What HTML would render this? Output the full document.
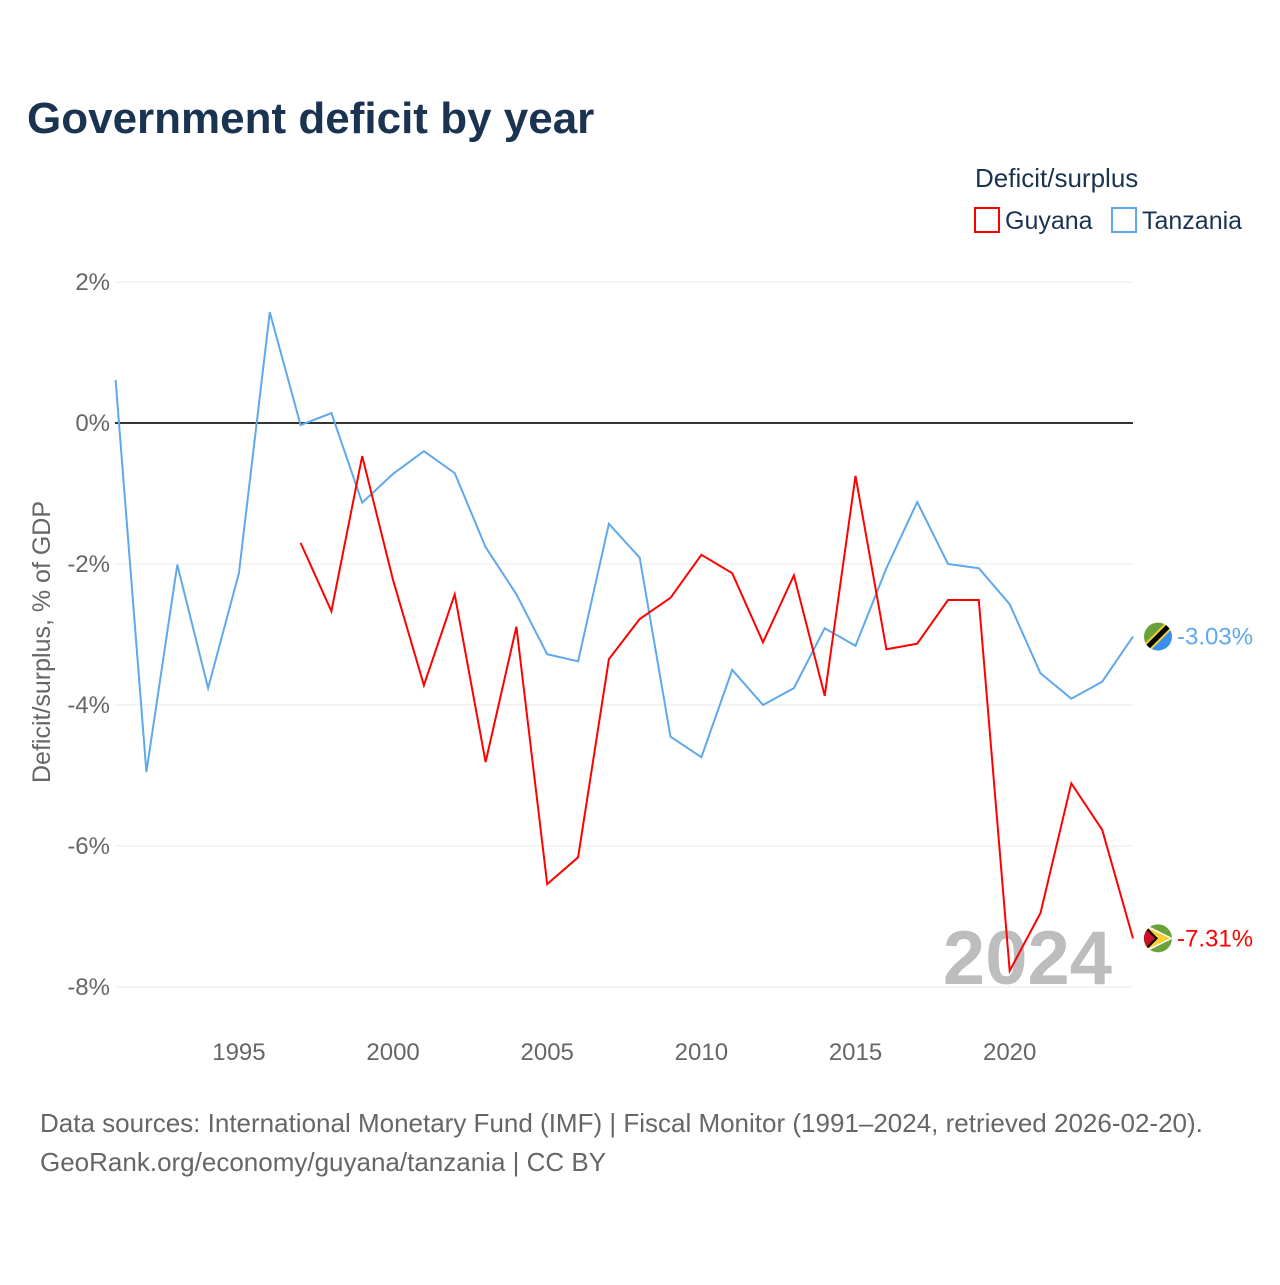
<!DOCTYPE html>
<html><head><meta charset="utf-8">
<style>
body{margin:0;background:#fff;font-family:"Liberation Sans",sans-serif;}
svg text{font-family:"Liberation Sans",sans-serif;}
</style></head>
<body>
<svg width="1280" height="1280" viewBox="0 0 1280 1280">
<rect width="1280" height="1280" fill="#fff"/>
<text x="27" y="133" font-size="44" font-weight="bold" fill="#1a3350">Government deficit by year</text>
<g>
<text x="975" y="187" font-size="26" fill="#1a3350">Deficit/surplus</text>
<rect x="975" y="208" width="24" height="24" fill="none" stroke="#ff0000" stroke-width="2"/>
<text x="1005" y="229" font-size="25" fill="#1a3350">Guyana</text>
<rect x="1112" y="208" width="24" height="24" fill="none" stroke="#5fa8ec" stroke-width="2"/>
<text x="1142" y="229" font-size="25" fill="#1a3350">Tanzania</text>
</g>
<g id="grid"></g>
<g id="yticks"></g>
<g id="xticks"></g>
<text transform="translate(50,642) rotate(-90)" text-anchor="middle" font-size="25" fill="#666">Deficit/surplus, % of GDP</text>
<text x="1112" y="984" text-anchor="end" font-size="76" font-weight="bold" fill="#bdbdbd">2024</text>
<g id="series"></g>
<g id="flags"></g>
<text x="40" y="1132" font-size="26" fill="#666">Data sources: International Monetary Fund (IMF) | Fiscal Monitor (1991–2024, retrieved 2026-02-20).</text>
<text x="40" y="1171" font-size="26" fill="#666">GeoRank.org/economy/guyana/tanzania | CC BY</text>
</svg>
<script>
const years = [1991,1992,1993,1994,1995,1996,1997,1998,1999,2000,2001,2002,2003,2004,2005,2006,2007,2008,2009,2010,2011,2012,2013,2014,2015,2016,2017,2018,2019,2020,2021,2022,2023,2024];
const tanzania = [0.61,-4.95,-2.01,-3.76,-2.13,1.57,-0.03,0.14,-1.13,-0.72,-0.40,-0.71,-1.76,-2.43,-3.28,-3.38,-1.43,-1.91,-4.45,-4.74,-3.50,-4.00,-3.76,-2.91,-3.16,-2.06,-1.12,-2.00,-2.06,-2.57,-3.55,-3.91,-3.67,-3.03];
const guyana = [null,null,null,null,null,null,-1.70,-2.67,-0.47,-2.23,-3.72,-2.43,-4.81,-2.89,-6.54,-6.16,-3.35,-2.78,-2.48,-1.87,-2.13,-3.11,-2.16,-3.87,-0.75,-3.21,-3.13,-2.51,-2.51,-7.77,-6.95,-5.11,-5.77,-7.31];
const yTicks = [2,0,-2,-4,-6,-8];
const xTicks = [1995,2000,2005,2010,2015,2020];
const NS="http://www.w3.org/2000/svg";
const x = yr => 115.6 + (yr-1991)*(1133-115.6)/33;
const y = v => 423 - v*70.5;
function mk(tag, attrs, parent){const e=document.createElementNS(NS,tag);for(const k in attrs)e.setAttribute(k,attrs[k]);parent.appendChild(e);return e;}
const grid=document.getElementById('grid'), yt=document.getElementById('yticks'), xt=document.getElementById('xticks');
yTicks.forEach(t=>{
  const l=mk('line',{x1:115,x2:1133,y1:y(t),y2:y(t),stroke:t===0?'#333':'#e8e8e8','stroke-width':t===0?2:1},grid);
  
  
  const tx=mk('text',{x:110,y:y(t)+8,'text-anchor':'end','font-size':24,fill:'#666'},yt);
  tx.textContent=t+'%';
  
  
});
xTicks.forEach(t=>{
  const tx=mk('text',{x:x(t),y:1060,'text-anchor':'middle','font-size':24,fill:'#666'},xt);
  tx.textContent=t;
  
  
});
function path(vals){let d='',pen=false;vals.forEach((v,i)=>{if(v===null){pen=false;return;}d+=(pen?'L':'M')+x(years[i]).toFixed(1)+','+y(v).toFixed(1);pen=true;});return d;}
const s=document.getElementById('series');
const pt=mk('path',{d:path(tanzania),fill:'none',stroke:'#5fa8ec','stroke-width':2},s);


const pg=mk('path',{d:path(guyana),fill:'none',stroke:'#ff0000','stroke-width':2},s);


const f=document.getElementById('flags');
const last=years.length-1;
(function(){
  const cx=1158, cy=y(tanzania[last]);
  const g=mk('g',{},f);
  
  
  mk('clipPath',{id:'ct'},g);
  mk('circle',{cx:cx,cy:cy,r:14},document.getElementById('ct'));
  const gg=mk('g',{'clip-path':'url(#ct)'},g);
  mk('polygon',{points:`${cx-15},${cy-15} ${cx+15},${cy-15} ${cx-15},${cy+15}`,fill:'#6aa23a'},gg);
  mk('polygon',{points:`${cx+15},${cy-15} ${cx+15},${cy+15} ${cx-15},${cy+15}`,fill:'#3a8ef0'},gg);
  mk('line',{x1:cx-15,y1:cy+15,x2:cx+15,y2:cy-15,stroke:'#f7d038','stroke-width':9},gg);
  mk('line',{x1:cx-15,y1:cy+15,x2:cx+15,y2:cy-15,stroke:'#000','stroke-width':5},gg);
  const t=mk('text',{x:1177,y:cy+8,'font-size':24,fill:'#5fa8ec'},f);
  t.textContent=tanzania[last].toFixed(2)+'%';
  
  
})();
(function(){
  const cx=1158, cy=y(guyana[last]);
  const g=mk('g',{},f);
  
  
  mk('clipPath',{id:'cg'},g);
  mk('circle',{cx:cx,cy:cy,r:14},document.getElementById('cg'));
  const gg=mk('g',{'clip-path':'url(#cg)'},g);
  mk('rect',{x:cx-15,y:cy-15,width:30,height:30,fill:'#6aa23a'},gg);
  mk('polygon',{points:`${cx-15},${cy-15} ${cx+15},${cy} ${cx-15},${cy+15}`,fill:'#fff'},gg);
  mk('polygon',{points:`${cx-15},${cy-13} ${cx+12},${cy} ${cx-15},${cy+13}`,fill:'#f7d038'},gg);
  mk('polygon',{points:`${cx-15},${cy-15} ${cx},${cy} ${cx-15},${cy+15}`,fill:'#000'},gg);
  mk('polygon',{points:`${cx-15},${cy-12} ${cx-3},${cy} ${cx-15},${cy+12}`,fill:'#ce1126'},gg);
  const t=mk('text',{x:1177,y:cy+8,'font-size':24,fill:'#ff0000'},f);
  t.textContent=guyana[last].toFixed(2)+'%';
  
  
})();
</script>
</body></html>
